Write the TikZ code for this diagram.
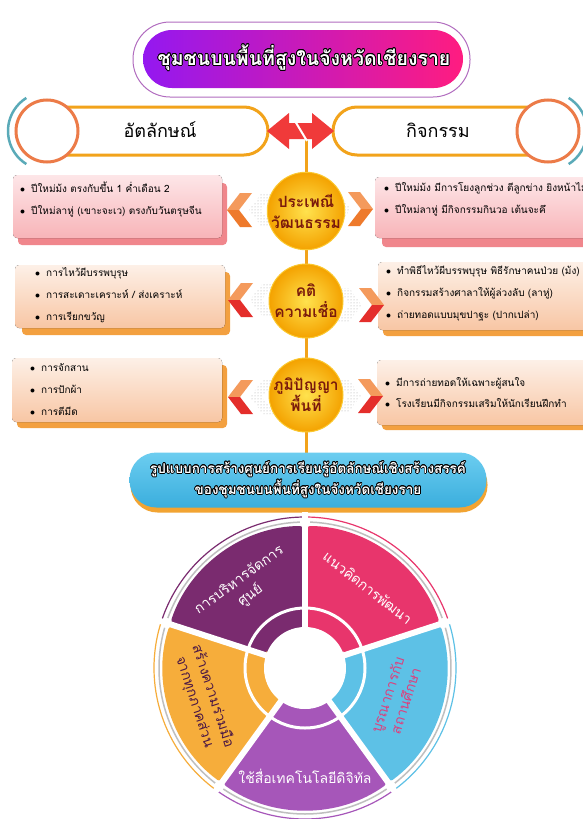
\documentclass[tikz,border=0pt]{standalone}
\usepackage{fontspec}
\setmainfont{Loma}[Script=Thai]
\usepackage{contour}
\contourlength{0.7pt}
\usetikzlibrary{patterns,shadows}

\definecolor{linegold}{HTML}{F2A31B}
\definecolor{ringorange}{HTML}{EC7B48}
\definecolor{ringteal}{HTML}{5AAAB8}
\definecolor{arrowred}{HTML}{F03A3A}
\definecolor{titlepurple}{HTML}{9418F0}
\definecolor{titlepink}{HTML}{FF1C80}
\definecolor{titleedge}{HTML}{B16CBF}
\definecolor{topicbrown}{HTML}{7A1A0C}
\definecolor{goldin}{HTML}{FFE24E}
\definecolor{goldout}{HTML}{F4A200}
\definecolor{pinktop}{HTML}{FDE6E8}
\definecolor{pinkbot}{HTML}{F8B4B8}
\definecolor{pinkshadow}{HTML}{F0868C}
\definecolor{peachtop}{HTML}{FDF0E7}
\definecolor{peachbot}{HTML}{F8C6A4}
\definecolor{peachshadow}{HTML}{F3A040}
\definecolor{chevlight}{HTML}{F49A5C}
\definecolor{chevorange}{HTML}{EE7A2C}
\definecolor{chevred}{HTML}{E42E2B}
\definecolor{bannertop}{HTML}{6CCDF0}
\definecolor{bannerbot}{HTML}{3AAEDD}
\definecolor{bannerorange}{HTML}{F2A432}
\definecolor{segpurple}{HTML}{7A2B6F}
\definecolor{segpink}{HTML}{E8356C}
\definecolor{segblue}{HTML}{5DC1E6}
\definecolor{segviolet}{HTML}{A656B9}
\definecolor{segorange}{HTML}{F6AD3B}
\definecolor{bluetext}{HTML}{DE3F7C}
\definecolor{orangetext}{HTML}{4A1745}

\tikzset{
  pillbox/.style={draw=linegold, line width=3pt, fill=white, rounded corners=24pt},
  endring/.style={draw=ringorange, line width=3pt, fill=white},
  tealarc/.style={draw=ringteal, line width=2.5pt},
  headtext/.style={font=\fontsize{18}{20}\selectfont, inner sep=0pt},
  topic/.style={circle, minimum size=74pt, inner sep=0pt, shade, inner color=goldin,
    outer color=goldout, draw=goldin!60!goldout, line width=1pt, align=center,
    text=topicbrown, font=\fontsize{15.5}{21}\selectfont\bfseries},
  pinknote/.style={rounded corners=4pt, top color=pinktop, bottom color=pinkbot},
  peachnote/.style={rounded corners=4pt, top color=peachtop, bottom color=peachbot},
  notelines/.style={anchor=west, inner sep=0pt, align=left, font=\fontsize{10}{22}\selectfont},
  fadechev/.style={pattern=dots, pattern color=black!35},
  segtext/.style={align=center, inner sep=0pt, font=\fontsize{14}{19}\selectfont},
}

\newcommand\itm{$\bullet$\hspace{6pt}}

% chevron pointing left, tip at (#1,#2)
\newcommand\chevleft[4]{%
  \fill[fadechev] (#1+22,#2) -- (#1+35,#2-17) -- (#1+47,#2-17) -- (#1+34,#2)
    -- (#1+47,#2+17) -- (#1+35,#2+17) -- cycle;
  \fill[#3] (#1,#2) -- (#1+13,#2-17) -- (#1+25,#2-17) -- (#1+12,#2) -- cycle;
  \fill[#4] (#1,#2) -- (#1+12,#2) -- (#1+25,#2+17) -- (#1+13,#2+17) -- cycle;}
% chevron pointing right, tip at (#1,#2)
\newcommand\chevright[4]{%
  \fill[fadechev] (#1-22,#2) -- (#1-35,#2-17) -- (#1-47,#2-17) -- (#1-34,#2)
    -- (#1-47,#2+17) -- (#1-35,#2+17) -- cycle;
  \fill[#3] (#1,#2) -- (#1-13,#2-17) -- (#1-25,#2-17) -- (#1-12,#2) -- cycle;
  \fill[#4] (#1,#2) -- (#1-12,#2) -- (#1-25,#2+17) -- (#1-13,#2+17) -- cycle;}

\begin{document}
\begin{tikzpicture}[x=1pt, y=-1pt]
\useasboundingbox (0,0) rectangle (583,819);
\clip (0,0) rectangle (583,819);
\fill[white] (0,0) rectangle (583,819);

% spine
\coordinate (split) at (306,140);
\coordinate (spineend) at (306,456);
\draw[linegold, line width=3pt] (split) -- (spineend);

% title
\draw[titleedge, fill=white, line width=1pt, rounded corners=37pt] (133,22) rectangle (470,97);
\shade[left color=titlepurple, right color=titlepink, rounded corners=29pt] (143,30) rectangle (463,88);
\node[text=white, font=\fontsize{19.5}{24}\selectfont\bfseries] (title) at (304,58)
  {\contour{black}{ชุมชนบนพื้นที่สูงในจังหวัดเชียงราย}};

% header row
\draw[tealarc] (47,131) ++(122:39) arc[start angle=122, end angle=238, radius=39];
\draw[tealarc] (548,131) ++(-58:39) arc[start angle=-58, end angle=58, radius=39];
\draw[pillbox] (40,107) rectangle (268,155);
\draw[pillbox] (333,107) rectangle (555,155);
\draw[endring] (47,131) circle (31);
\draw[endring] (548,131) circle (31);
\node[headtext] (identity) at (160,130) {อัตลักษณ์};
\node[headtext] (activity) at (438,130) {กิจกรรม};
\fill[arrowred] (267,131) -- (289,113) -- (289,123) -- (312,123) -- (312,113) -- (334,131)
  -- (312,149) -- (312,139) -- (289,139) -- (289,149) -- cycle;
\draw[white, line width=2pt] (295,121) -- (307,141);

% row 1
\fill[pinkshadow, rounded corners=4pt] (18,183) rectangle (227,245);
\fill[pinknote] (13,175) rectangle (222,238);
\fill[pinkshadow, rounded corners=4pt] (382,185) rectangle (600,247);
\fill[pinknote] (375,177) rectangle (600,238);
\chevleft{227}{210}{chevlight}{chevorange}
\chevright{373}{209}{chevlight}{chevorange}
\node[notelines] (customleft) at (20,199.5)
  {\itm ปีใหม่ม้ง ตรงกับขึ้น 1 ค่ำเดือน 2\\ \itm ปีใหม่ลาหู่ (เขาะจะเว) ตรงกับวันตรุษจีน};
\node[notelines] (customright) at (384,199.5)
  {\itm ปีใหม่ม้ง มีการโยงลูกช่วง ตีลูกข่าง ยิงหน้าไม้\\ \itm ปีใหม่ลาหู่ มีกิจกรรมกินวอ เต้นจะคึ};
\node[topic] (tradition) at (306,211) {ประเพณี\\วัฒนธรรม};

% row 2
\fill[peachshadow, rounded corners=4pt] (22,272) rectangle (230,335);
\fill[peachnote] (15,265) rectangle (225,328);
\fill[peachshadow, rounded corners=4pt] (383,270) rectangle (600,336);
\fill[peachnote] (378,262) rectangle (600,330);
\chevleft{228}{300}{chevlight}{chevred}
\chevright{384}{305}{chevlight}{chevred}
\node[notelines] (beliefleft) at (35,295)
  {\itm การไหว้ผีบรรพบุรุษ\\ \itm การสะเดาะเคราะห์ / ส่งเคราะห์\\ \itm การเรียกขวัญ};
\node[notelines] (beliefright) at (386,293)
  {\itm ทำพิธีไหว้ผีบรรพบุรุษ พิธีรักษาคนป่วย (ม้ง)\\ \itm กิจกรรมสร้างศาลาให้ผู้ล่วงลับ (ลาหู่)\\ \itm ถ่ายทอดแบบมุขปาฐะ (ปากเปล่า)};
\node[topic] (belief) at (306,301) {คติ\\ความเชื่อ};

% row 3
\fill[peachshadow, rounded corners=4pt] (17,365) rectangle (227,428);
\fill[peachnote] (12,358) rectangle (222,422);
\fill[peachshadow, rounded corners=4pt] (382,368) rectangle (600,430);
\fill[peachnote] (377,360) rectangle (600,425);
\chevleft{228}{397}{chevlight}{chevred}
\chevright{383}{396}{chevlight}{chevred}
\node[notelines] (wisdomleft) at (30,390)
  {\itm การจักสาน\\ \itm การปักผ้า\\ \itm การตีมีด};
\node[notelines, font=\fontsize{10}{21}\selectfont] (wisdomright) at (385,392.5)
  {\itm มีการถ่ายทอดให้เฉพาะผู้สนใจ\\ \itm โรงเรียนมีกิจกรรมเสริมให้นักเรียนฝึกทำ};
\node[topic] (wisdom) at (306,395) {ภูมิปัญญา\\พื้นที่};

% banner
\node[rectangle, rounded corners=27pt, minimum width=357pt, minimum height=55pt,
  top color=bannertop, bottom color=bannerbot,
  drop shadow={shadow xshift=1pt, shadow yshift=-5pt, fill=bannerorange, opacity=1},
  align=center, text=white, font=\fontsize{13.5}{21}\selectfont\bfseries] (model) at (308,480)
  {\contour{black}{รูปแบบการสร้างศูนย์การเรียนรู้อัตลักษณ์เชิงสร้างสรรค์}\\
   \contour{black}{ของชุมชนบนพื้นที่สูงในจังหวัดเชียงราย}};

% wheel
\begin{scope}[shift={(305,668)}, y=1pt]
\foreach \a/\b/\c [evaluate=\a as \as using \a+2, evaluate=\b as \bs using \b-2] in
  {90/162/segpurple, 18/90/segpink, -54/18/segblue, -126/-54/segviolet, 162/234/segorange}{
  \fill[\c, rounded corners=5pt] (\a:40) -- (\a:142) arc[start angle=\a, end angle=\b, radius=142]
    -- (\b:40) arc[start angle=\b, end angle=\a, radius=40] -- cycle;
  \draw[black!25, line width=1.5pt] (\as:146) arc[start angle=\as, end angle=\bs, radius=146];
  \draw[\c, line width=1.2pt] (\a:151) arc[start angle=\a, end angle=\b, radius=151];
}
\foreach \a in {90,18,-54,-126,162}
  \draw[white, line width=6pt] (\a:36) -- (\a:156);
\draw[white, line width=3pt] (0,0) circle[radius=60];
\fill[white] (0,0) circle[radius=41];
\node[segtext, text=white, rotate=36] (manage) at (127:100) {การบริหารจัดการ\\ศูนย์};
\node[segtext, text=white, rotate=-38] (concept) at (52:102) {แนวคิดการพัฒนา};
\node[segtext, text=bluetext, rotate=72] (school) at (-18:96) {บูรณาการกับ\\สถานศึกษา};
\node[segtext, text=white] (digital) at (-90:108) {ใช้สื่อเทคโนโลยีดิจิทัล};
\node[segtext, text=orangetext, rotate=-72] (network) at (197:106) {สร้างความร่วมมือ\\จากทุกภาคส่วน};
\end{scope}

\end{tikzpicture}
\end{document}
